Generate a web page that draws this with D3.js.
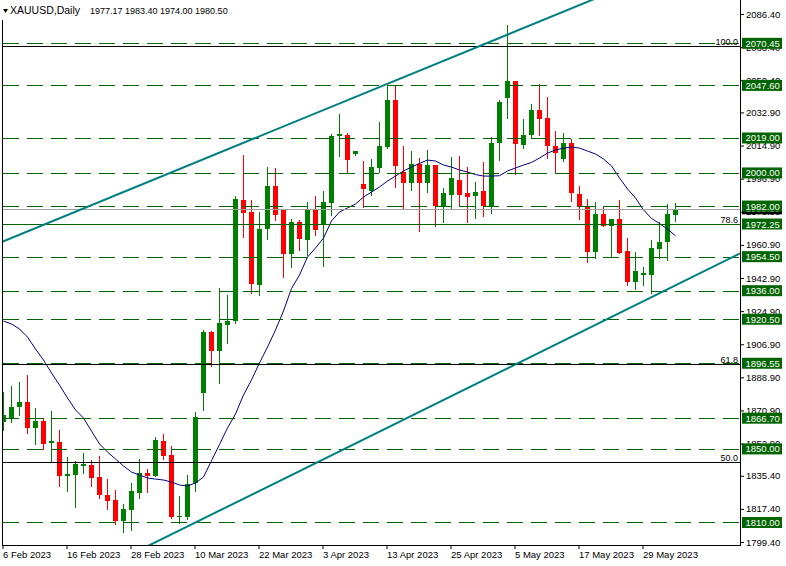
<!DOCTYPE html>
<html><head><meta charset="utf-8">
<script src="https://cdn.jsdelivr.net/npm/d3@7"></script>
<style>body{margin:0;background:#fff}svg{display:block;font-family:"Liberation Sans",Arial,sans-serif}</style>
</head><body><svg id="c" width="786" height="566"></svg>
<script>
const dates=["2023-02-06","2023-02-07","2023-02-08","2023-02-09","2023-02-10","2023-02-13","2023-02-14","2023-02-15","2023-02-16","2023-02-17",
"2023-02-20","2023-02-21","2023-02-22","2023-02-23","2023-02-24","2023-02-27","2023-02-28","2023-03-01","2023-03-02","2023-03-03",
"2023-03-06","2023-03-07","2023-03-08","2023-03-09","2023-03-10","2023-03-13","2023-03-14","2023-03-15","2023-03-16","2023-03-17",
"2023-03-20","2023-03-21","2023-03-22","2023-03-23","2023-03-24","2023-03-27","2023-03-28","2023-03-29","2023-03-30","2023-03-31",
"2023-04-03","2023-04-04","2023-04-05","2023-04-06","2023-04-07","2023-04-10","2023-04-11","2023-04-12","2023-04-13","2023-04-14",
"2023-04-17","2023-04-18","2023-04-19","2023-04-20","2023-04-21","2023-04-24","2023-04-25","2023-04-26","2023-04-27","2023-04-28",
"2023-05-01","2023-05-02","2023-05-03","2023-05-04","2023-05-05","2023-05-08","2023-05-09","2023-05-10","2023-05-11","2023-05-12",
"2023-05-15","2023-05-16","2023-05-17","2023-05-18","2023-05-19","2023-05-22","2023-05-23","2023-05-24","2023-05-25","2023-05-26",
"2023-05-29","2023-05-30","2023-05-31","2023-06-01","2023-06-02"];
const open=[1864.6,1866.8,1872.8,1875.5,1861.4,1865.2,1853.2,1853.8,1835.3,1835.8,
1840.7,1841.3,1834.7,1825.0,1822.2,1810.8,1816.8,1826.0,1837.0,1835.3,
1854.3,1846.7,1813.4,1813.0,1831.5,1880.4,1913.5,1903.2,1917.4,1919.5,
1985.3,1978.8,1939.1,1969.5,1992.9,1979.9,1956.0,1973.3,1963.6,1980.4,
1972.2,1983.7,2020.1,2020.6,2010.1,1994.0,1990.3,2002.8,2014.3,2039.7,
2000.7,1994.7,2004.8,1994.5,2004.3,1981.5,1988.0,1996.2,1989.1,1987.6,
1990.2,1982.0,2016.1,2040.9,2050.0,2015.2,2020.5,2034.2,2029.9,2014.6,
2007.6,2016.4,1988.5,1981.6,1957.2,1977.7,1971.3,1975.0,1957.6,1940.9,
1944.8,1944.7,1958.8,1962.3,1977.17];
const high=[1880.9,1884.2,1886.4,1890.2,1872.2,1866.8,1870.6,1860.3,1845.6,1843.4,
1847.8,1844.0,1846.1,1833.6,1827.7,1820.0,1831.5,1844.5,1839.1,1856.5,
1858.1,1851.6,1824.4,1835.8,1870.1,1914.6,1914.1,1937.5,1933.7,1987.5,
2009.7,1985.3,1978.8,2003.2,2002.7,1979.9,1975.0,1974.4,1984.2,1987.5,
1990.2,2021.2,2032.0,2021.5,2012.0,2006.5,2007.4,2027.9,2047.3,2047.3,
2014.6,2011.9,2008.3,2012.5,2004.3,1991.8,2008.8,2009.4,2003.4,1995.1,
2006.1,2019.7,2039.7,2080.4,2050.0,2029.3,2037.5,2048.3,2041.4,2022.8,
2021.9,2018.6,1992.9,1985.8,1984.0,1982.2,1975.0,1985.3,1964.5,1956.9,
1949.0,1963.6,1973.5,1983.1,1983.40];
const low=[1860.3,1864.6,1868.4,1858.6,1852.7,1850.0,1842.9,1830.0,1827.1,1818.4,
1837.0,1830.0,1823.3,1817.3,1809.2,1804.8,1805.9,1823.3,1826.6,1835.3,
1844.5,1812.4,1809.7,1811.9,1827.1,1871.2,1895.1,1885.8,1907.6,1918.4,
1965.2,1934.7,1933.7,1964.1,1974.4,1943.4,1948.9,1958.1,1955.4,1966.3,
1949.4,1977.1,2009.2,2000.1,2009.8,1981.3,1988.0,2000.7,2013.4,1992.2,
1981.2,1990.7,1968.6,1989.8,1971.3,1973.5,1980.9,1982.6,1973.5,1975.7,
1976.6,1978.1,2007.0,2030.0,1999.4,2013.4,2018.8,2020.8,2008.1,2000.7,
2006.7,1984.9,1974.8,1951.8,1953.6,1971.3,1954.1,1956.3,1939.1,1936.7,
1939.1,1934.6,1953.6,1952.7,1974.00];
const close=[1868.4,1872.8,1875.5,1861.4,1865.2,1852.7,1854.3,1835.3,1836.4,1841.8,
1841.8,1834.2,1825.0,1821.7,1810.8,1817.3,1827.1,1837.0,1835.3,1854.8,
1846.1,1813.0,1813.8,1831.0,1867.3,1913.5,1903.2,1918.4,1919.5,1985.8,
1978.2,1939.6,1969.5,1992.9,1977.1,1956.0,1973.3,1964.1,1979.9,1969.0,
1984.2,2020.1,2021.0,2007.0,2011.9,1991.1,2003.1,2014.6,2039.7,2003.9,
1994.7,2004.8,1994.7,2004.3,1982.2,1989.1,1997.3,1988.0,1987.1,1989.6,
1982.0,2016.1,2038.5,2050.0,2015.6,2020.5,2034.2,2029.5,2014.6,2010.7,
2016.4,1988.9,1981.3,1957.2,1977.7,1971.3,1975.0,1956.6,1940.9,1946.7,
1945.4,1959.0,1962.3,1977.7,1980.50];
const movingAvg=[1919.5,1917.9,1915.2,1910.8,1904.3,1898.3,1891.3,1884.7,1877.7,1871.2,
1866.8,1859.7,1852.7,1848.3,1844.5,1840.7,1837.4,1835.8,1834.2,1833.6,
1833.1,1832.0,1830.4,1829.8,1831.5,1834.7,1843.6,1852.4,1861.4,1869.0,
1879.3,1887.5,1896.7,1905.4,1914.6,1925.0,1937.2,1944.5,1954.3,1959.2,
1964.6,1973.9,1978.8,1981.0,1983.1,1986.9,1989.6,1992.4,1995.6,1998.3,
2001.1,2003.2,2005.2,2007.0,2006.5,2004.3,2003.2,2001.6,2000.5,1999.1,
1998.3,1998.3,1998.5,2001.1,2002.7,2004.3,2005.7,2008.1,2010.8,2012.5,
2013.5,2014.1,2013.5,2011.9,2010.3,2007.6,2003.8,1997.3,1991.3,1986.4,
1979.9,1975.3,1972.5,1969.5,1965.8];
const dashedLevels=[2070.45,2047.60,2019.00,2000.00,1982.00,1954.50,1936.00,1920.50,1896.55,1866.70,1850.00,1810.00];
const solidLevels=[1972.25];
const fibPrices=[2069.0,1972.1,1896.1,1842.7];
const fibLabels=["100.0","78.6","61.8","50.0"];
const bidPrice=1980.50;
const channelLines=[
 {from:["2023-02-06",1962.8],to:["2023-05-29",2105.4]},
 {from:["2023-03-08",1805.6],to:["2023-06-02",1938.8]}
];
const priceTicks=[2086.40,2068.40,2050.40,2032.90,2014.90,1996.90,1978.90,1960.90,1942.90,1924.90,1906.90,1888.90,1870.90,1852.90,1835.40,1817.40,1799.40];
const dateTicks=["2023-02-06","2023-02-16","2023-02-28","2023-03-10","2023-03-22","2023-04-03","2023-04-13","2023-04-25","2023-05-05","2023-05-17","2023-05-29"];
const dateTickLabels=["6 Feb 2023","16 Feb 2023","28 Feb 2023","10 Mar 2023","22 Mar 2023","3 Apr 2023","13 Apr 2023","25 Apr 2023","5 May 2023","17 May 2023","29 May 2023"];
const headerSymbol="XAUUSD,Daily";
const headerValues="1977.17 1983.40 1974.00 1980.50";

const L=2, R=740, B=545;
const LEVEL="#006400", UP="#008000", DOWN="#ff0000";
const svg=d3.select("#c");
svg.append("rect").attr("width",786).attr("height",566).attr("fill","#fff");
svg.append("defs").append("clipPath").attr("id","clip").append("rect")
  .attr("x",L+0.5).attr("y",0).attr("width",R-L-0.5).attr("height",B);

const x=d3.scaleBand().domain(dates).range([-1,-1+8*dates.length]).padding(0);
const y=d3.scaleLinear().domain([1799.4,2086.4]).range([542,14]);
const cx=d=>Math.round(x(d)+x.bandwidth()/2);
const ry=v=>Math.round(y(v));

const plot=svg.append("g").attr("clip-path","url(#clip)");

// candles
const candles=plot.append("g");
dates.forEach((d,i)=>{
  const up=close[i]>=open[i], col=up?UP:DOWN, c=cx(d);
  candles.append("line").attr("x1",c+0.5).attr("x2",c+0.5)
    .attr("y1",ry(high[i])).attr("y2",ry(low[i])+1).attr("stroke",col);
  const y0=ry(Math.max(open[i],close[i])), y1=ry(Math.min(open[i],close[i]));
  candles.append("rect").attr("x",c-2).attr("y",y0).attr("width",5)
    .attr("height",Math.max(1,y1-y0)).attr("fill",col);
});

// moving average
plot.append("path").datum(movingAvg)
  .attr("d",d3.line().x((v,i)=>cx(dates[i])+0.5).y(v=>y(v)))
  .attr("fill","none").attr("stroke","#000080").attr("stroke-width",1);

// fib lines
fibPrices.forEach((p,i)=>{
  const yy=ry(p)+0.5;
  plot.append("line").attr("x1",L).attr("x2",R).attr("y1",yy).attr("y2",yy).attr("stroke","#000");
});
// levels
dashedLevels.forEach(p=>{
  const yy=ry(p)+0.5;
  plot.append("line").attr("x1",3).attr("x2",R).attr("y1",yy).attr("y2",yy)
    .attr("stroke",LEVEL).attr("stroke-dasharray","16,8");
});
solidLevels.forEach(p=>{
  const yy=ry(p)+0.5;
  plot.append("line").attr("x1",3).attr("x2",R).attr("y1",yy).attr("y2",yy).attr("stroke",LEVEL);
});
// bid line
plot.append("line").attr("x1",L).attr("x2",R).attr("y1",ry(bidPrice)+0.5).attr("y2",ry(bidPrice)+0.5).attr("stroke","#a0a0a0");

// channel lines
channelLines.forEach(ln=>{
  const x1=cx(ln.from[0]), y1=y(ln.from[1]), x2=cx(ln.to[0]), y2=y(ln.to[1]);
  const k=(y2-y1)/(x2-x1);
  plot.append("line").attr("x1",0).attr("y1",y1+k*(0-x1)).attr("x2",R).attr("y2",y1+k*(R-x1))
    .attr("stroke","#008080").attr("stroke-width",2);
});

// fib labels
fibPrices.forEach((p,i)=>{
  svg.append("text").attr("x",738).attr("y",ry(p)-1.5).attr("text-anchor","end")
    .attr("font-size","9px").attr("fill","#000").text(fibLabels[i]);
});

// right axis
const ax=svg.append("g").attr("transform",`translate(${R},0)`)
  .call(d3.axisRight(y).tickValues(priceTicks).tickFormat(d3.format(".2f")).tickSize(4).tickPadding(2));
ax.select(".domain").remove();
ax.selectAll("text").attr("font-size","9.5px").attr("font-family","Liberation Sans,Arial,sans-serif").attr("fill","#000");
// bottom axis
const bx=svg.append("g").attr("transform",`translate(0,${B})`)
  .call(d3.axisBottom(x).tickValues(dateTicks).tickFormat((d,i)=>dateTickLabels[i]).tickSize(4).tickPadding(2));
bx.select(".domain").remove();
bx.selectAll("text").attr("text-anchor","start").attr("x",0).attr("font-size","9.5px").attr("font-family","Liberation Sans,Arial,sans-serif").attr("fill","#000");

// frame
svg.append("line").attr("x1",R+0.5).attr("x2",R+0.5).attr("y1",0).attr("y2",B+1).attr("stroke","#000");
svg.append("line").attr("x1",L).attr("x2",R+1).attr("y1",B+0.5).attr("y2",B+0.5).attr("stroke","#000");
svg.append("line").attr("x1",L+0.5).attr("x2",L+0.5).attr("y1",0).attr("y2",B+1).attr("stroke","#000");

// bid label
const bidY=y(bidPrice);
svg.append("rect").attr("x",742).attr("y",bidY-5.5).attr("width",40).attr("height",11).attr("fill","#000");
svg.append("text").attr("x",745.5).attr("y",bidY+3.5).attr("font-size","9.5px").attr("fill","#fff").text(bidPrice.toFixed(2));
// level labels
dashedLevels.concat(solidLevels).forEach(p=>{
  const yy=y(p);
  svg.append("rect").attr("x",742).attr("y",yy-5.5).attr("width",40).attr("height",11).attr("fill",LEVEL);
  svg.append("text").attr("x",745.5).attr("y",yy+3.5).attr("font-size","9.5px").attr("fill","#fff").text(p.toFixed(2));
});

// header
svg.append("rect").attr("x",0).attr("y",0).attr("width",236).attr("height",20).attr("fill","#fff");
svg.append("path").attr("d","M3,9L8,9L5.5,13Z").attr("fill","#000");
svg.append("text").attr("x",10).attr("y",14).attr("font-size","10.5px").attr("fill","#000").text(headerSymbol);
svg.append("text").attr("x",90).attr("y",14).attr("font-size","9px").attr("fill","#000").text(headerValues);
</script></body></html>
